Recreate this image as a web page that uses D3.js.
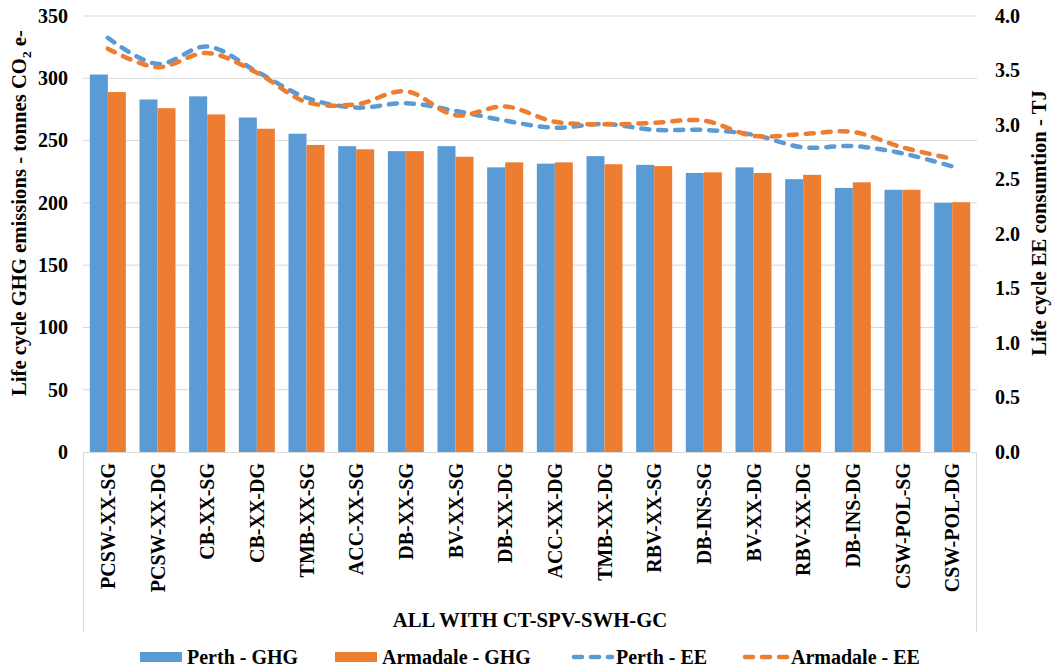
<!DOCTYPE html>
<html><head><meta charset="utf-8">
<script src="https://cdn.jsdelivr.net/npm/d3@7"></script>
<style>
body{margin:0;background:#fff;}
text{font-family:"Liberation Serif","Times New Roman",serif;font-weight:bold;fill:#000;}
</style></head>
<body><svg id="c" width="1053" height="670"></svg>
<script>
const categories = ["PCSW-XX-SG","PCSW-XX-DG","CB-XX-SG","CB-XX-DG","TMB-XX-SG","ACC-XX-SG","DB-XX-SG","BV-XX-SG","DB-XX-DG","ACC-XX-DG","TMB-XX-DG","RBV-XX-SG","DB-INS-SG","BV-XX-DG","RBV-XX-DG","DB-INS-DG","CSW-POL-SG","CSW-POL-DG"];
const perthGHG    = [303,283,285.5,268.5,255.5,245.5,241.5,245.5,228.5,231.5,237.5,230.5,224,228.5,219,212,210.5,200];
const armadaleGHG = [289,276,271,259.5,246.5,243,241.5,237,232.5,232.5,231,229.5,224.5,224,222.5,216.5,210.5,200.5];
const perthEE     = [3.80,3.56,3.72,3.49,3.25,3.16,3.20,3.13,3.04,2.975,3.01,2.955,2.955,2.91,2.795,2.807,2.74,2.62];
const armadaleEE  = [3.70,3.53,3.66,3.48,3.21,3.19,3.31,3.09,3.17,3.03,3.006,3.02,3.04,2.90,2.917,2.936,2.795,2.69];
const leftTicks  = [0,50,100,150,200,250,300,350];
const rightTicks = [0,0.5,1.0,1.5,2.0,2.5,3.0,3.5,4.0];
const seriesNames = ["Perth - GHG","Armadale - GHG","Perth - EE","Armadale - EE"];
const colors = {blue:"#5B9BD5", orange:"#ED7D31"};

const svg = d3.select("#c");
const L = 83, R = 977, T = 16, B = 452;

const x = d3.scaleBand().domain(categories).range([L, R]).paddingInner(0.275).paddingOuter(0.1375);
const xs = d3.scaleBand().domain([0,1]).range([0, x.bandwidth()]);
const yL = d3.scaleLinear().domain([0,350]).range([B, T]);
const yR = d3.scaleLinear().domain([0,4]).range([B, T]);
const xc = d => x(d) + x.bandwidth()/2;

// gridlines
svg.append("g").selectAll("line").data(leftTicks.slice(1)).join("line")
  .attr("x1", L).attr("x2", R).attr("y1", d=>yL(d)).attr("y2", d=>yL(d))
  .attr("stroke", "#D9D9D9").attr("stroke-width", 1);

// bars
const bars = svg.append("g");
[[perthGHG, colors.blue, 0],[armadaleGHG, colors.orange, 1]].forEach(([vals, col, i]) => {
  bars.selectAll(null).data(vals).join("rect")
    .attr("x", (d,j) => x(categories[j]) + xs(i))
    .attr("width", xs.bandwidth())
    .attr("y", d => yL(d))
    .attr("height", d => yL(0) - yL(d))
    .attr("fill", col);
});

// axis frame lines
svg.append("line").attr("x1", L).attr("x2", R).attr("y1", B+0.5).attr("y2", B+0.5).attr("stroke", "#D9D9D9");
svg.append("line").attr("x1", L+0.5).attr("x2", L+0.5).attr("y1", B).attr("y2", 632).attr("stroke", "#D9D9D9");
svg.append("line").attr("x1", R-0.5).attr("x2", R-0.5).attr("y1", B).attr("y2", 632).attr("stroke", "#D9D9D9");

// lines
const line = (sc) => d3.line().x((d,j)=>xc(categories[j])).y(d=>sc(d)).curve(d3.curveCatmullRom.alpha(0.5));
[[perthEE, colors.blue],[armadaleEE, colors.orange]].forEach(([vals, col]) => {
  svg.append("path").attr("d", line(yR)(vals)).attr("fill","none")
    .attr("stroke", col).attr("stroke-width", 4.5)
    .attr("stroke-dasharray", "8,9").attr("stroke-linecap", "round");
});

// left axis
const gl = svg.append("g").attr("transform", `translate(${L},0)`)
  .call(d3.axisLeft(yL).tickValues(leftTicks).tickSize(0).tickPadding(15).tickFormat(d3.format("d")));
gl.select(".domain").remove();
gl.selectAll("text").attr("font-size", 20).attr("font-family", "Liberation Serif").attr("font-weight","bold").attr("fill","#000");

// right axis
const gr = svg.append("g").attr("transform", `translate(${R},0)`)
  .call(d3.axisRight(yR).tickValues(rightTicks).tickSize(0).tickPadding(18).tickFormat(d3.format(".1f")));
gr.select(".domain").remove();
gr.selectAll("text").attr("font-size", 20).attr("font-family", "Liberation Serif").attr("font-weight","bold").attr("fill","#000");

// x labels
const gx = svg.append("g").attr("transform", `translate(0,${B})`)
  .call(d3.axisBottom(x).tickSize(0).tickPadding(0));
gx.select(".domain").remove();
gx.selectAll("text")
  .attr("font-size", 20).attr("font-family", "Liberation Serif").attr("font-weight","bold").attr("fill","#000")
  .attr("transform", "rotate(-90)")
  .attr("text-anchor", "end")
  .attr("x", -11).attr("y", 0).attr("dy", "0.35em");

// axis titles
const lt = svg.append("text").attr("transform", "translate(26,213) rotate(-90)")
  .attr("text-anchor","middle").attr("font-size", 20.7);
lt.append("tspan").text("Life cycle GHG emissions - tonnes CO");
lt.append("tspan").text("2").attr("font-size", 13.5).attr("dy", 5);
lt.append("tspan").text(" e-").attr("dy", -5);

svg.append("text").attr("transform", "translate(1046,223) rotate(-90)")
  .attr("text-anchor","middle").attr("font-size", 20.7).text("Life cycle EE consumtion - TJ");

svg.append("text").attr("x", (L+R)/2).attr("y", 627).attr("text-anchor","middle")
  .attr("font-size", 20.7).text("ALL WITH CT-SPV-SWH-GC");

// legend
const lg = svg.append("g");
const ly = 657;
lg.append("rect").attr("x",140).attr("y",ly-5).attr("width",42).attr("height",10).attr("fill",colors.blue);
lg.append("text").attr("x",187).attr("y",ly).attr("dy","0.35em").attr("font-size",20).text(seriesNames[0]);
lg.append("rect").attr("x",335).attr("y",ly-5).attr("width",42).attr("height",10).attr("fill",colors.orange);
lg.append("text").attr("x",382).attr("y",ly).attr("dy","0.35em").attr("font-size",20).text(seriesNames[1]);
lg.append("line").attr("x1",574).attr("x2",612).attr("y1",ly).attr("y2",ly).attr("stroke",colors.blue)
  .attr("stroke-width",4.5).attr("stroke-dasharray","8,9").attr("stroke-linecap","round");
lg.append("text").attr("x",616).attr("y",ly).attr("dy","0.35em").attr("font-size",20).text(seriesNames[2]);
lg.append("line").attr("x1",745).attr("x2",787).attr("y1",ly).attr("y2",ly).attr("stroke",colors.orange)
  .attr("stroke-width",4.5).attr("stroke-dasharray","8,9").attr("stroke-linecap","round");
lg.append("text").attr("x",791).attr("y",ly).attr("dy","0.35em").attr("font-size",20).text(seriesNames[3]);
</script></body></html>
